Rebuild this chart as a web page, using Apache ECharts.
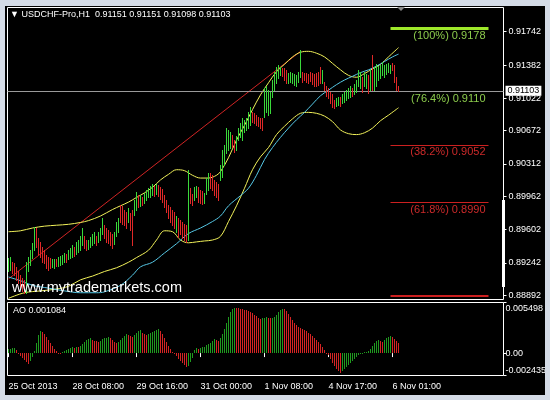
<!DOCTYPE html>
<html><head><meta charset="utf-8">
<script src="https://cdn.jsdelivr.net/npm/echarts@6/dist/echarts.min.js"></script>
<style>
html,body{margin:0;padding:0;background:#d4dbe6;}
#wrap{position:relative;width:550px;height:400px;}
#c{position:absolute;left:0;top:0;width:550px;height:400px;}
#frame{position:absolute;left:0;top:0;width:550px;height:400px;box-sizing:border-box;border-style:solid;border-color:#d4dbe6;border-width:6px 5px 5px 5px;pointer-events:none;}
</style>
</head><body><div id="wrap"><div id="c"></div><div id="frame"></div></div>
<script>
const headerText = '\u25BC USDCHF-Pro,H1  0.91151 0.91151 0.91098 0.91103';
const aoText = 'AO 0.001084';
const watermark = 'www.mytrademarkets.com';
const slotCount = 248;
const xTickIndex = [0, 32, 64, 96, 128, 160, 192];
const xTickLabels = ['25 Oct 2013', '28 Oct 08:00', '29 Oct 16:00', '31 Oct 00:00', '1 Nov 08:00', '4 Nov 17:00', '6 Nov 01:00'];
const priceTicks = [0.91742, 0.91382, 0.91022, 0.90672, 0.90312, 0.89962, 0.89602, 0.89242, 0.88892];
const aoTicks = [-0.002435, 0, 0.005498];
const bidPrice = 0.91103;

const barHigh = [
0.8930,0.8931,0.8925,0.8924,0.8920,0.8915,0.8911,0.8908,0.8906,0.8925,
0.8931,0.8938,0.8946,0.8963,0.8962,0.8951,0.8947,0.8942,0.8938,0.8933,
0.8931,0.8930,0.8929,0.8928,0.8929,0.8931,0.8932,0.8933,0.8935,0.8934,
0.8938,0.8940,0.8944,0.8942,0.8947,0.8949,0.8953,0.8962,0.8953,0.8949,
0.8949,0.8952,0.8955,0.8958,0.8953,0.8958,0.8962,0.8973,0.8965,0.8962,
0.8960,0.8958,0.8955,0.8958,0.8968,0.8973,0.8987,0.8986,0.8982,0.8979,
0.8984,0.8978,0.8982,0.8992,0.9001,0.8998,0.8998,0.8996,0.9000,0.9003,
0.9005,0.9007,0.9010,0.9007,0.9010,0.9009,0.9006,0.9004,0.8998,0.8992,
0.8987,0.8985,0.8982,0.8979,0.8975,0.8973,0.8971,0.8969,0.8966,0.8965,
0.9025,0.9005,0.8999,0.9006,0.9007,0.9006,0.9003,0.9002,0.9000,0.9016,
0.9022,0.9022,0.9019,0.9014,0.9012,0.9010,0.9030,0.9046,0.9052,0.9070,
0.9068,0.9066,0.9063,0.9057,0.9062,0.9070,0.9076,0.9081,0.9079,0.9081,
0.9087,0.9093,0.9087,0.9086,0.9084,0.9082,0.9081,0.9081,0.9113,0.9115,
0.9111,0.9109,0.9122,0.9131,0.9136,0.9138,0.9136,0.9135,0.9135,0.9133,
0.9130,0.9131,0.9130,0.9129,0.9127,0.9131,0.9154,0.9131,0.9130,0.9130,
0.9129,0.9131,0.9130,0.9129,0.9130,0.9131,0.9136,0.9133,0.9120,0.9116,
0.9113,0.9109,0.9107,0.9100,0.9103,0.9104,0.9104,0.9107,0.9109,0.9111,
0.9113,0.9115,0.9113,0.9118,0.9122,0.9133,0.9131,0.9125,0.9131,0.9129,
0.9127,0.9133,0.9149,0.9136,0.9139,0.9137,0.9138,0.9142,0.9138,0.9139,
0.9140,0.9138,0.9140,0.9138,0.9125,0.91151];

const barLow = [
0.8915,0.8917,0.8913,0.8911,0.8906,0.8902,0.8898,0.8894,0.8892,0.8892,
0.8915,0.8922,0.8930,0.8938,0.8942,0.8934,0.8931,0.8925,0.8924,0.8919,
0.8917,0.8919,0.8920,0.8919,0.8921,0.8921,0.8922,0.8923,0.8925,0.8925,
0.8928,0.8930,0.8931,0.8932,0.8934,0.8936,0.8938,0.8944,0.8940,0.8938,
0.8939,0.8942,0.8944,0.8946,0.8944,0.8947,0.8949,0.8956,0.8951,0.8947,
0.8946,0.8944,0.8940,0.8945,0.8953,0.8958,0.8969,0.8966,0.8965,0.8962,
0.8969,0.8960,0.8944,0.8976,0.8982,0.8985,0.8986,0.8987,0.8989,0.8992,
0.8995,0.8996,0.8998,0.8997,0.8999,0.8997,0.8993,0.8990,0.8985,0.8979,
0.8973,0.8969,0.8965,0.8962,0.8958,0.8952,0.8955,0.8951,0.8949,0.8947,
0.8949,0.8989,0.8987,0.8992,0.8995,0.8990,0.8989,0.8988,0.8989,0.8999,
0.9003,0.9005,0.9003,0.8998,0.8995,0.8992,0.9014,0.9017,0.9030,0.9043,
0.9046,0.9049,0.9050,0.9044,0.9046,0.9057,0.9060,0.9057,0.9066,0.9068,
0.9070,0.9073,0.9077,0.9076,0.9073,0.9072,0.9070,0.9068,0.9082,0.9087,
0.9084,0.9086,0.9104,0.9111,0.9119,0.9124,0.9127,0.9126,0.9122,0.9119,
0.9119,0.9120,0.9119,0.9117,0.9115,0.9120,0.9125,0.9120,0.9122,0.9120,
0.9119,0.9121,0.9118,0.9116,0.9115,0.9117,0.9119,0.9119,0.9111,0.9105,
0.9103,0.9097,0.9093,0.9092,0.9094,0.9095,0.9094,0.9097,0.9098,0.9100,
0.9103,0.9104,0.9105,0.9107,0.9109,0.9116,0.9113,0.9109,0.9116,0.9113,
0.9108,0.9111,0.9111,0.9111,0.9116,0.9122,0.9124,0.9127,0.9125,0.9128,
0.9131,0.9130,0.9133,0.9120,0.9111,0.91098];

const barUp = [
1,1,0,0,0,0,0,0,0,1, 1,1,1,1,0,0,0,0,0,0, 0,0,1,1,0,1,1,1,1,0, 1,1,1,0,1,1,1,1,0,0,
1,1,1,1,0,1,1,1,0,0, 0,0,0,1,1,1,0,0,0,0, 1,0,0,1,1,0,1,0,1,1, 1,1,1,0,1,0,0,0,0,0,
0,0,0,0,1,0,0,0,0,0, 1,0,0,1,1,0,0,0,1,1, 1,0,0,0,0,0,1,1,1,1, 1,1,0,0,1,1,1,1,1,1,
1,1,0,0,0,0,0,0,1,1, 1,1,1,1,1,1,1,0,0,0, 1,1,1,1,1,1,1,0,0,0, 0,0,0,0,0,0,0,1,0,0,
0,0,0,0,1,1,0,1,1,1, 1,1,0,1,1,1,1,0,1,1, 0,1,0,1,1,1,1,1,1,1, 1,1,0,0,0,0];

const aoValues = [
0.00043,0.00049,0.00051,0.00054,0.00033,-0.00011,-0.00033,-0.00054,-0.00076,-0.00098,
-0.00114,-0.00087,-0.00043,0.00022,0.00109,0.00196,0.00239,0.00228,0.00207,0.00174,
0.00141,0.00109,0.00076,0.00043,0.00022,0.00005,0.00003,0.00011,0.00022,0.00033,
0.00043,0.00054,0.00065,0.00060,0.00071,0.00065,0.00076,0.00098,0.00120,0.00141,
0.00152,0.00163,0.00141,0.00130,0.00128,0.00125,0.00130,0.00152,0.00163,0.00168,
0.00174,0.00163,0.00141,0.00120,0.00109,0.00120,0.00141,0.00163,0.00185,0.00207,
0.00196,0.00185,0.00174,0.00196,0.00217,0.00239,0.00250,0.00217,0.00207,0.00196,
0.00207,0.00217,0.00228,0.00239,0.00250,0.00261,0.00239,0.00207,0.00163,0.00120,
0.00076,0.00043,0.00016,-0.00011,-0.00033,-0.00065,-0.00087,-0.00109,-0.00130,-0.00152,
-0.00141,-0.00098,-0.00054,0.00033,0.00054,0.00049,0.00060,0.00065,0.00071,0.00087,
0.00098,0.00109,0.00130,0.00152,0.00141,0.00130,0.00163,0.00207,0.00261,0.00326,
0.00391,0.00446,0.00484,0.00495,0.00489,0.00487,0.00484,0.00478,0.00473,0.00467,
0.00457,0.00446,0.00435,0.00418,0.00402,0.00386,0.00375,0.00380,0.00386,0.00391,
0.00386,0.00380,0.00386,0.00391,0.00413,0.00446,0.00467,0.00484,0.00478,0.00457,
0.00424,0.00391,0.00359,0.00326,0.00304,0.00283,0.00272,0.00261,0.00250,0.00239,
0.00223,0.00207,0.00185,0.00163,0.00141,0.00120,0.00098,0.00065,0.00033,0.00005,
-0.00022,-0.00065,-0.00109,-0.00141,-0.00174,-0.00196,-0.00212,-0.00196,-0.00174,-0.00152,
-0.00130,-0.00109,-0.00087,-0.00065,-0.00043,-0.00022,-0.00011,0.00005,0.00011,0.00016,
0.00022,0.00043,0.00076,0.00109,0.00130,0.00141,0.00130,0.00120,0.00141,0.00163,
0.00179,0.00185,0.00174,0.00152,0.00130,0.001084];

const upperBand = [[0,0.8958],[6,0.8959],[12,0.8962],[18,0.8964],[24,0.8965],[30,0.8966],[36,0.8968],[40,0.8970],[46,0.8975],[52,0.8982],[56,0.8986],[60,0.8990],[64,0.8995],[68,0.9000],[72,0.9006],[76,0.9014],[80,0.9020],[84,0.9025],[88,0.9024],[92,0.9019],[96,0.9016],[100,0.9016],[104,0.9019],[106,0.9023],[110,0.9038],[114,0.9057],[118,0.9073],[122,0.9090],[126,0.9106],[130,0.9119],[134,0.9131],[138,0.9139],[142,0.9147],[146,0.9152],[150,0.9153],[154,0.9151],[158,0.9147],[162,0.9140],[166,0.9133],[170,0.9127],[174,0.9125],[178,0.9129],[182,0.9134],[186,0.9139],[190,0.9147],[195,0.9157]];
const lowerBand = [[0,0.8886],[8,0.8892],[16,0.8894],[24,0.8896],[30,0.8899],[36,0.8906],[42,0.8910],[48,0.8915],[54,0.8919],[60,0.8925],[64,0.8930],[70,0.8938],[74,0.8949],[78,0.8959],[82,0.8958],[86,0.8949],[90,0.8946],[94,0.8947],[98,0.8948],[102,0.8949],[106,0.8953],[110,0.8969],[114,0.8986],[118,0.9005],[122,0.9025],[126,0.9039],[130,0.9049],[134,0.9063],[138,0.9072],[142,0.9080],[146,0.9086],[150,0.9087],[154,0.9086],[158,0.9083],[162,0.9077],[166,0.9068],[170,0.9064],[174,0.9063],[178,0.9065],[182,0.9070],[186,0.9078],[190,0.9084],[195,0.9092]];
const maLine = [[0,0.8909],[6,0.8905],[12,0.8900],[20,0.8897],[28,0.8894],[36,0.8892],[44,0.8892],[48,0.8893],[56,0.8900],[62,0.8911],[66,0.8920],[72,0.8925],[78,0.8935],[84,0.8945],[90,0.8956],[96,0.8962],[102,0.8969],[106,0.8975],[110,0.8986],[116,0.8997],[120,0.9005],[124,0.9019],[128,0.9036],[132,0.9049],[136,0.9060],[140,0.9070],[144,0.9079],[148,0.9087],[152,0.9096],[156,0.9105],[160,0.9111],[164,0.9117],[168,0.9122],[172,0.9126],[176,0.9130],[180,0.9133],[184,0.9137],[188,0.9142],[192,0.9147],[195,0.9150]];
const trendLine = [[0, 0.8907], [146, 0.9153]];
const fibLevels = [0.9178, 0.9110, 0.9052, 0.8990, 0.8889];
const fibLabels = ['(100%) 0.9178', '(76.4%) 0.9110', '(38.2%) 0.9052', '(61.8%) 0.8990', ''];
const fibFrom = 190.5, fibTo = 239.5;

const FONT = "'Liberation Sans', Arial, sans-serif";
const C = {
  up: '#3ad83a', down: '#e02828', aoUp: '#1f9a1f', aoDown: '#d42424',
  band: '#f2f25a', ma: '#56c8e6', trend: '#d02424', bid: '#9a9a9a',
  fibGreenLine: '#9ee82a', fibGreenText: '#8ccc4c', fibRedLine: '#cc2020', fibRedText: '#cc2a2a'
};
const fibStyle = [
  {line: C.fibGreenLine, text: C.fibGreenText, width: 3},
  {line: C.fibGreenText, text: C.fibGreenText, width: 1},
  {line: C.fibRedLine, text: C.fibRedText, width: 1},
  {line: C.fibRedLine, text: C.fibRedText, width: 1},
  {line: C.fibRedLine, text: C.fibRedText, width: 2}
];

const categories = Array.from({length: slotCount}, (_, i) => String(i));
const tickSet = new Set(xTickIndex);
const tickText = {}; xTickIndex.forEach((k, j) => tickText[k] = xTickLabels[j]);

const priceBarData = barHigh.map((h, i) => [i, barLow[i], h, barUp[i]]);
const aoData = aoValues.map((v, i) => [i, v, i === 0 || v > aoValues[i - 1] ? 1 : 0]);

const fibMarks = fibLevels.map((lv, k) => [
  {coord: [fibFrom, lv], lineStyle: {color: fibStyle[k].line, width: fibStyle[k].width, type: 'solid'},
   label: {show: !!fibLabels[k], formatter: fibLabels[k], position: 'insideEndBottom', color: fibStyle[k].text,
     fontSize: 11, fontFamily: FONT, distance: [3, 2]}},
  {coord: [fibTo, lv]}
]);

const chart = echarts.init(document.getElementById('c'), null, {renderer: 'canvas'});
chart.setOption({
  backgroundColor: '#000',
  animation: false,
  title: [
    {text: headerText, left: 10, top: 10, padding: 0, textStyle: {color: '#fff', fontSize: 9, fontWeight: 'normal', fontFamily: FONT}},
    {text: aoText, left: 13, top: 306, padding: 0, textStyle: {color: '#fff', fontSize: 9, fontWeight: 'normal', fontFamily: FONT}}
  ],
  graphic: [
    {type: 'text', left: 12, top: 280, silent: true, z: 10,
     style: {text: watermark, fill: '#fff', font: "14.5px 'Liberation Sans', Arial, sans-serif"}},
    {type: 'polygon', silent: true, shape: {points: [[397, 7], [405, 7], [401, 11]]}, style: {fill: '#8a8a8a'}},
    {type: 'rect', silent: true, shape: {x: 502, y: 200, width: 3, height: 87}, style: {fill: '#fff'}}
  ],
  grid: [
    {left: 7.5, top: 7.5, width: 496, height: 292, show: true, borderColor: '#fff', borderWidth: 1, backgroundColor: '#000'},
    {left: 7.5, top: 302.5, width: 496, height: 73, show: true, borderColor: '#fff', borderWidth: 1, backgroundColor: '#000'}
  ],
  xAxis: [
    {type: 'category', gridIndex: 0, data: categories, boundaryGap: true,
     axisLine: {show: false}, axisTick: {show: false}, axisLabel: {show: false}, splitLine: {show: false}},
    {type: 'category', gridIndex: 1, data: categories, boundaryGap: true,
     axisLine: {show: false},
     axisTick: {show: true, alignWithLabel: true, interval: (i) => tickSet.has(i), length: 4, lineStyle: {color: '#fff'}},
     axisLabel: {show: true, interval: (i) => tickSet.has(i), formatter: (v, i) => tickText[i] || '', align: 'left',
       color: '#fff', fontSize: 9, fontFamily: FONT, margin: 7},
     splitLine: {show: false}}
  ],
  yAxis: [
    {type: 'value', gridIndex: 0, position: 'right', min: 0.88847, max: 0.92004, scale: true,
     axisLine: {show: false}, splitLine: {show: false},
     axisTick: {show: true, customValues: priceTicks, length: 3, lineStyle: {color: '#fff'}},
     axisLabel: {customValues: priceTicks, formatter: (v) => v.toFixed(5), color: '#fff', fontSize: 9, fontFamily: FONT, margin: 5}},
    {type: 'value', gridIndex: 1, position: 'right', min: -0.002435, max: 0.005498, scale: true,
     axisLine: {show: false}, splitLine: {show: false},
     axisTick: {show: true, customValues: aoTicks, length: 3, lineStyle: {color: '#fff'}},
     axisLabel: {customValues: aoTicks, formatter: (v) => v === 0 ? '0.00' : v.toFixed(6), color: '#fff', fontSize: 9, fontFamily: FONT, margin: 2,
       verticalAlignMinLabel: 'bottom', verticalAlignMaxLabel: 'top', padding: [2, 0, 0, 0]}}
  ],
  series: [
    {type: 'line', name: 'trend', xAxisIndex: 0, yAxisIndex: 0, data: trendLine, symbol: 'none', z: 3,
     lineStyle: {color: C.trend, width: 1},
     markLine: {silent: true, symbol: ['none', 'none'], animation: false, precision: 5,
       data: fibMarks.concat([{yAxis: bidPrice, lineStyle: {color: C.bid, width: 1, type: 'solid'},
         label: {show: true, position: 'end', formatter: bidPrice.toFixed(5), backgroundColor: '#fff', color: '#000',
           padding: [1, 2, 0, 2], fontSize: 9, fontFamily: FONT, distance: 2}}])}},
    {type: 'line', name: 'upper', xAxisIndex: 0, yAxisIndex: 0, data: upperBand, symbol: 'none', smooth: 0.35, z: 4,
     lineStyle: {color: C.band, width: 1}},
    {type: 'line', name: 'lower', xAxisIndex: 0, yAxisIndex: 0, data: lowerBand, symbol: 'none', smooth: 0.35, z: 4,
     lineStyle: {color: C.band, width: 1}},
    {type: 'line', name: 'ma', xAxisIndex: 0, yAxisIndex: 0, data: maLine, symbol: 'none', smooth: 0.35, z: 4,
     lineStyle: {color: C.ma, width: 1}},
    {type: 'custom', name: 'bars', xAxisIndex: 0, yAxisIndex: 0, data: priceBarData, z: 5, clip: true,
     encode: {x: 0, y: [1, 2]},
     renderItem: function (params, api) {
       const i = api.value(0), lo = api.value(1), hi = api.value(2), up = api.value(3);
       const a = api.coord([i, hi]), b = api.coord([i, lo]);
       const y1 = Math.round(a[1]), y2 = Math.round(b[1]);
       return {type: 'rect', shape: {x: Math.floor(a[0]), y: y1, width: 1, height: Math.max(1, y2 - y1 + 1)},
         style: {fill: up ? C.up : C.down}};
     }},
    {type: 'custom', name: 'AO', xAxisIndex: 1, yAxisIndex: 1, data: aoData, z: 5, clip: true,
     encode: {x: 0, y: 1},
     renderItem: function (params, api) {
       const i = api.value(0), v = api.value(1), up = api.value(2);
       const a = api.coord([i, 0]), b = api.coord([i, v]);
       const y0 = Math.round(a[1]), y1 = Math.round(b[1]);
       return {type: 'rect', shape: {x: Math.floor(a[0]), y: Math.min(y0, y1), width: 1, height: Math.max(1, Math.abs(y1 - y0))},
         style: {fill: up ? C.aoUp : C.aoDown}};
     }}
  ]
});
</script>
</body></html>
